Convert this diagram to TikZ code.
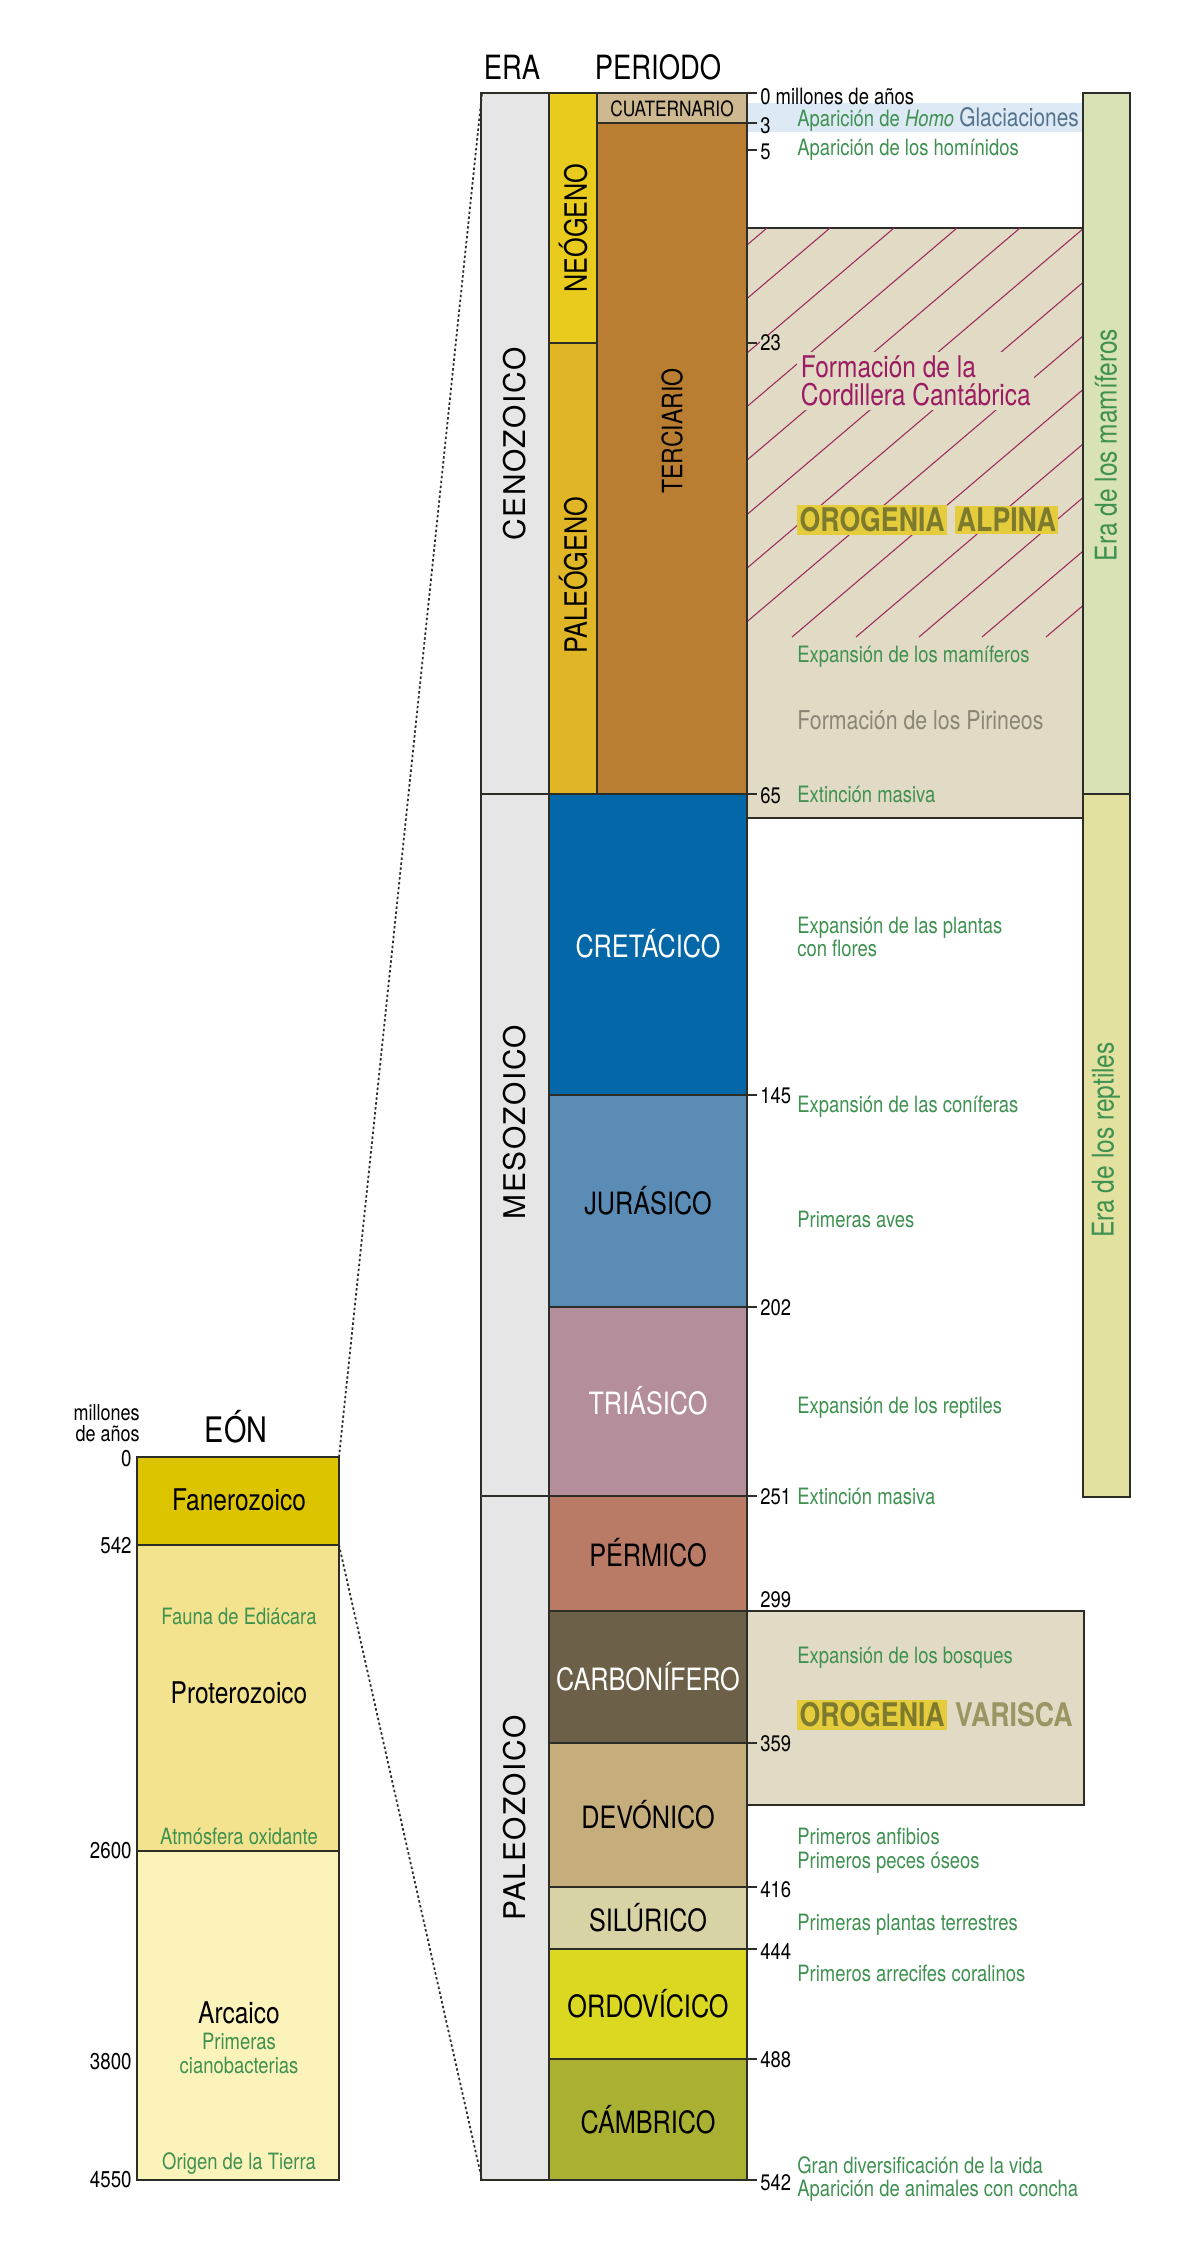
\documentclass[tikz,border=0pt]{standalone}
\usepackage{fontspec}
\setmainfont[FakeStretch=0.82]{TeX Gyre Heros}
\newfontfamily\erafont[LetterSpace=5]{TeX Gyre Heros}
\usetikzlibrary{positioning}
\definecolor{figline}{RGB}{45,45,40}
\definecolor{eracol}{RGB}{230,230,230}
\definecolor{neog}{RGB}{233,203,30}
\definecolor{paleog}{RGB}{224,181,38}
\definecolor{cuat}{RGB}{205,184,143}
\definecolor{terc}{RGB}{186,126,50}
\definecolor{creta}{RGB}{4,104,168}
\definecolor{jura}{RGB}{90,140,181}
\definecolor{trias}{RGB}{181,142,155}
\definecolor{perm}{RGB}{185,122,102}
\definecolor{carbo}{RGB}{108,97,72}
\definecolor{devo}{RGB}{197,173,124}
\definecolor{silu}{RGB}{216,211,164}
\definecolor{ordo}{RGB}{219,216,34}
\definecolor{camb}{RGB}{170,176,50}
\definecolor{fanero}{RGB}{220,196,0}
\definecolor{protero}{RGB}{243,227,143}
\definecolor{arca}{RGB}{252,243,186}
\definecolor{orobg}{RGB}{225,218,196}
\definecolor{mamif}{RGB}{217,225,182}
\definecolor{reptil}{RGB}{226,225,160}
\definecolor{glacbg}{RGB}{221,233,244}
\definecolor{evgreen}{RGB}{62,145,80}
\definecolor{cantab}{RGB}{156,28,99}
\definecolor{hatchln}{RGB}{156,42,94}
\definecolor{oroink}{RGB}{125,122,46}
\definecolor{orohl}{RGB}{228,204,61}
\definecolor{varink}{RGB}{154,149,98}
\definecolor{pirin}{RGB}{138,134,118}
\definecolor{glacink}{RGB}{85,115,141}
\tikzset{
  blk/.style   ={draw=figline, line width=1pt},
  tk/.style    ={draw=figline, line width=0.8pt},
  hatchl/.style={draw=hatchln, line width=0.6pt},
  dotln/.style ={draw=figline, line width=1pt, dash pattern=on 1.4pt off 1.4pt},
  hd/.style    ={font=\fontsize{19}{21}\selectfont, inner sep=0pt},
  per/.style   ={font=\fontsize{17.5}{19}\selectfont, inner sep=0pt},
  pers/.style  ={font=\fontsize{12}{14}\selectfont, inner sep=0pt},
  eralab/.style={font=\erafont\fontsize{17}{19}\selectfont, inner sep=0pt, rotate=90},
  barlab/.style={font=\fontsize{17}{19}\selectfont, text=evgreen, inner sep=0pt, rotate=90},
  num/.style   ={font=\fontsize{12.8}{14}\selectfont, inner sep=0pt, anchor=west},
  numr/.style  ={font=\fontsize{13}{14}\selectfont, inner sep=0pt, anchor=east},
  ev/.style    ={font=\fontsize{12.8}{13.5}\selectfont, text=evgreen, inner sep=0pt, anchor=west, align=left},
  evc/.style   ={font=\fontsize{12.8}{13.7}\selectfont, text=evgreen, inner sep=0pt, align=center},
  eon/.style   ={font=\fontsize{17}{19}\selectfont, inner sep=0pt},
  oro/.style   ={font=\bfseries\fontsize{18.5}{20}\selectfont, text=oroink, inner sep=1.3pt},
}
\begin{document}
\begin{tikzpicture}[x=0.2mm, y=-0.2mm]
  \fill[white] (0,0) rectangle (1200,2268);
  \useasboundingbox (0,0) rectangle (1200,2268);
  % background bands on the right
  \fill[glacbg] (747,103) rectangle (1083,132);
  \draw[blk, fill=orobg] (747,228) rectangle (1083,818);
  \begin{scope}
    \clip (747,228) rectangle (1083,637);
    \draw[hatchl] (286,637) -- (767,228);
    \draw[hatchl] (349,637) -- (830,228);
    \draw[hatchl] (413,637) -- (894,228);
    \draw[hatchl] (476,637) -- (957,228);
    \draw[hatchl] (539,637) -- (1020,228);
    \draw[hatchl] (603,637) -- (1084,228);
    \draw[hatchl] (666,637) -- (1147,228);
    \draw[hatchl] (729,637) -- (1210,228);
    \draw[hatchl] (792,637) -- (1273,228);
    \draw[hatchl] (856,637) -- (1337,228);
    \draw[hatchl] (919,637) -- (1400,228);
    \draw[hatchl] (982,637) -- (1463,228);
    \draw[hatchl] (1046,637) -- (1527,228);
  \end{scope}
  \draw[blk, fill=orobg] (747,1611) rectangle (1084,1805);
  \draw[blk, fill=mamif] (1083,93) rectangle (1130,794);
  \draw[blk, fill=reptil] (1083,794) rectangle (1130,1497);
  % eras
  \draw[blk, fill=eracol] (481,93) rectangle (549,794);
  \draw[blk, fill=eracol] (481,794) rectangle (549,1496);
  \draw[blk, fill=eracol] (481,1496) rectangle (549,2180);
  % periods
  \draw[blk, fill=neog] (549,93) rectangle (597,343);
  \draw[blk, fill=paleog] (549,343) rectangle (597,794);
  \draw[blk, fill=cuat] (597,93) rectangle (747,123);
  \draw[blk, fill=terc] (597,123) rectangle (747,794);
  \draw[blk, fill=creta] (549,794) rectangle (747,1095);
  \draw[blk, fill=jura] (549,1095) rectangle (747,1307);
  \draw[blk, fill=trias] (549,1307) rectangle (747,1496);
  \draw[blk, fill=perm] (549,1496) rectangle (747,1611);
  \draw[blk, fill=carbo] (549,1611) rectangle (747,1743);
  \draw[blk, fill=devo] (549,1743) rectangle (747,1887);
  \draw[blk, fill=silu] (549,1887) rectangle (747,1949);
  \draw[blk, fill=ordo] (549,1949) rectangle (747,2059);
  \draw[blk, fill=camb] (549,2059) rectangle (747,2180);
  % ticks
  \draw[tk] (747,93) -- (757,93);
  \draw[tk] (747,123) -- (757,123);
  \draw[tk] (747,150) -- (757,150);
  \draw[tk] (747,343) -- (757,343);
  \draw[tk] (747,794) -- (757,794);
  \draw[tk] (747,1095) -- (757,1095);
  \draw[tk] (747,1307) -- (757,1307);
  \draw[tk] (747,1496) -- (757,1496);
  \draw[tk] (747,1743) -- (757,1743);
  \draw[tk] (747,1887) -- (757,1887);
  \draw[tk] (747,1949) -- (757,1949);
  \draw[tk] (747,2059) -- (757,2059);
  \draw[tk] (747,2180) -- (757,2180);
  % eons
  \draw[blk, fill=fanero] (137,1457) rectangle (339,1545);
  \draw[blk, fill=protero] (137,1545) rectangle (339,1851);
  \draw[blk, fill=arca] (137,1851) rectangle (339,2180);
  \coordinate (eonA) at (339,1457);
  \coordinate (eraA) at (482,93);
  \coordinate (eonB) at (339,1545);
  \coordinate (eraB) at (482,2180);
  \draw[dotln] (eonA) -- (eraA);
  \draw[dotln] (eonB) -- (eraB);
  % headers
  \node[hd] (hera) at (512,67) {ERA};
  \node[hd] (hper) at (658,67) {PERIODO};
  \node[hd, font=\fontsize{20}{22}\selectfont] (heon) at (236,1427) {EÓN};
  \node[numr, align=right, font=\fontsize{12.5}{12}\selectfont] (hmill) at (140,1423) {millones\\de años};
  % era and period names
  \node[eralab] (ceno) at (515,444) {CENOZOICO};
  \node[eralab] (meso) at (515,1122) {MESOZOICO};
  \node[eralab] (paleo) at (515,1818) {PALEOZOICO};
  \node[per, rotate=90] (neo) at (573,228) {NEÓGENO};
  \node[per, rotate=90] (pal) at (573,575) {PALEÓGENO};
  \node[pers] (cua) at (672,109) {CUATERNARIO};
  \node[per, rotate=90, font=\fontsize{16}{18}\selectfont] (ter) at (672,431) {TERCIARIO};
  \node[per, text=white] (cre) at (648,944) {CRETÁCICO};
  \node[per] (jur) at (648,1201) {JURÁSICO};
  \node[per, text=white] (tri) at (648,1401) {TRIÁSICO};
  \node[per] (per) at (648,1553) {PÉRMICO};
  \node[per, text=white] (car) at (648,1677) {CARBONÍFERO};
  \node[per] (dev) at (648,1815) {DEVÓNICO};
  \node[per] (sil) at (648,1918) {SILÚRICO};
  \node[per] (ord) at (648,2004) {ORDOVÍCICO};
  \node[per] (cam) at (648,2120) {CÁMBRICO};
  % ages
  \node[num] (n0) at (760,96) {0 millones de años};
  \node[num] (n3) at (760,126) {3};
  \node[num] (n5) at (760,152) {5};
  \node[num, fill=orobg] (n23) at (760,343) {23};
  \node[num] (n65) at (760,796) {65};
  \node[num] (n145) at (760,1096) {145};
  \node[num] (n202) at (760,1308) {202};
  \node[num] (n251) at (760,1497) {251};
  \node[num] (n299) at (760,1600) {299};
  \node[num] (n359) at (760,1744) {359};
  \node[num] (n416) at (760,1890) {416};
  \node[num] (n444) at (760,1952) {444};
  \node[num] (n488) at (760,2060) {488};
  \node[num] (n542) at (760,2183) {542};
  % events
  \node[ev] (homo) at (797,119) {Aparición de \textit{Homo} \textcolor{glacink}{\fontsize{14.5}{16}\selectfont Glaciaciones}};
  \node[ev] (homi) at (797,150) {Aparición de los homínidos};
  \node[ev, text=cantab, font=\fontsize{17}{16}\selectfont, fill=orobg, inner sep=2pt] (cant) at (797,381) {Formación de la\\Cordillera Cantábrica};
  \node[oro, fill=orohl, anchor=west] (oroA) at (797,520) {OROGENIA};
  \node[oro, fill=orohl, right=4pt of oroA] (alpA) {ALPINA};
  \node[ev] (mamx) at (797,657) {Expansión de los mamíferos};
  \node[ev, text=pirin, font=\fontsize{14.8}{16}\selectfont] (piri) at (797,720) {Formación de los Pirineos};
  \node[ev] (ext1) at (797,794) {Extinción masiva};
  \node[ev] (flor) at (797,937) {Expansión de las plantas\\con flores};
  \node[ev] (coni) at (797,1107) {Expansión de las coníferas};
  \node[ev] (aves) at (797,1219) {Primeras aves};
  \node[ev] (rept) at (797,1408) {Expansión de los reptiles};
  \node[ev] (ext2) at (797,1496) {Extinción masiva};
  \node[ev] (bosq) at (797,1658) {Expansión de los bosques};
  \node[oro, fill=orohl, anchor=west] (oroV) at (797,1715) {OROGENIA};
  \node[oro, text=varink, right=3pt of oroV] (varV) {VARISCA};
  \node[ev] (anfi) at (797,1851) {Primeros anfibios\\Primeros peces óseos};
  \node[ev] (plan) at (797,1925) {Primeras plantas terrestres};
  \node[ev] (arre) at (797,1973) {Primeros arrecifes coralinos};
  \node[ev] (divr) at (797,2179) {Gran diversificación de la vida\\Aparición de animales con concha};
  \node[barlab] (mam) at (1106,445) {Era de los mamíferos};
  \node[barlab] (rep) at (1106,1140) {Era de los reptiles};
  % eon texts
  \node[eon] (fan) at (239,1500) {Fanerozoico};
  \node[evc] (edia) at (239,1616) {Fauna de Ediácara};
  \node[eon] (prot) at (239,1693) {Proterozoico};
  \node[evc] (atmo) at (239,1836) {Atmósfera oxidante};
  \node[eon] (arc) at (239,2013) {Arcaico};
  \node[evc] (ciano) at (239,2053) {Primeras\\cianobacterias};
  \node[evc] (orig) at (239,2164) {Origen de la Tierra};
  \node[numr] (e0) at (132,1459) {0};
  \node[numr] (e542) at (132,1546) {542};
  \node[numr] (e2600) at (132,1851) {2600};
  \node[numr] (e3800) at (132,2062) {3800};
  \node[numr] (e4550) at (132,2180) {4550};
\end{tikzpicture}
\end{document}
